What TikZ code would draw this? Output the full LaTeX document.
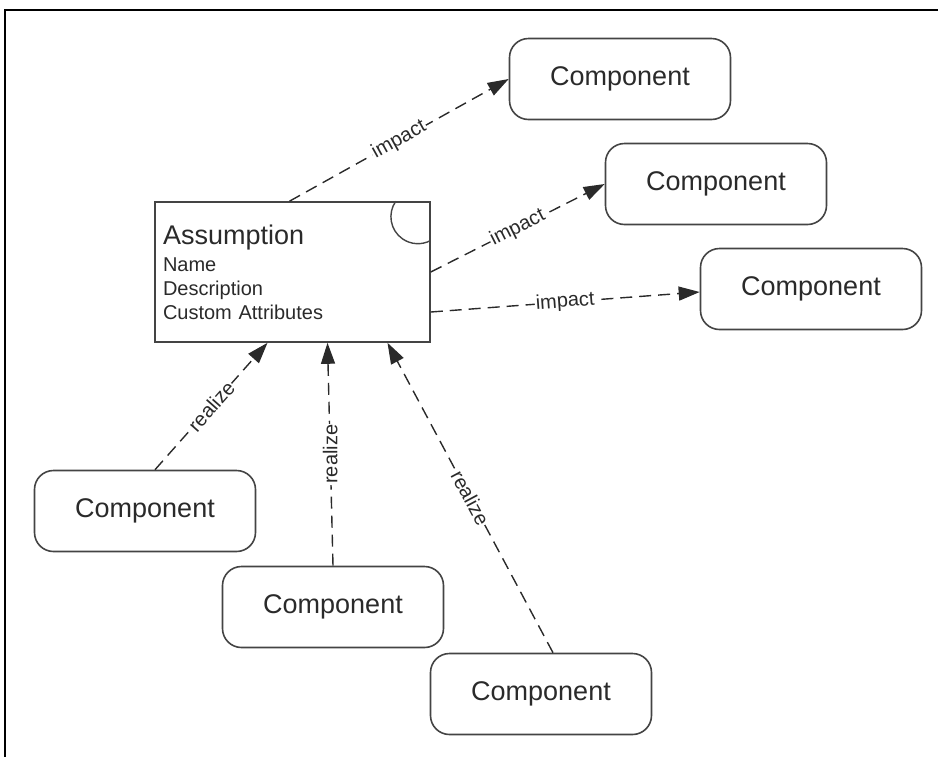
\documentclass[tikz,border=0pt]{standalone}
\usepackage{fontspec}
\setmainfont{Liberation Sans}
\usepackage{tikz}
\usetikzlibrary{positioning, arrows.meta}

\definecolor{edge}{HTML}{444444}
\definecolor{ink}{HTML}{2A2A2A}

\begin{document}
\begin{tikzpicture}[
  x=1pt, y=-1pt,
  comp/.style={draw=edge, line width=1.6pt, rounded corners=19pt, minimum width=221pt,
    minimum height=81pt, text=ink, font=\fontsize{27}{30}\selectfont},
  asmbox/.style={draw=edge, line width=1.6pt, minimum width=275pt, minimum height=140pt,
    text width=259pt, inner sep=8pt, align=left, text=ink, font=\fontsize{20}{24}\selectfont},
  dep/.style={-{Triangle[length=21pt, width=14pt]}, line width=1.4pt, ink,
    dash pattern=on 12pt off 7pt},
  lbl/.style={midway, fill=white, inner sep=1pt, text=ink, font=\fontsize{20}{22}\selectfont}
]
\useasboundingbox (0,0) rectangle (938,756);
% --- frame ---
\draw[line width=2.4pt] (5,770) -- (5,10) -- (950,10);
% --- assumption ---
\node[asmbox] (asm) at (292.5,272)
  {{\fontsize{27}{30}\selectfont Assumption}\\[3pt]
   Name\\Description\\Custom Attributes};
\draw[edge, line width=1.4pt] ([xshift=-35pt]asm.north east)
  arc[start angle=145, end angle=298, radius=27pt];
% --- components ---
\node[comp] (c1) at (620,79) {Component};
\node[comp] (c2) at (716,184) {Component};
\node[comp] (c3) at (811,289) {Component};
\node[comp] (c4) at (145,511) {Component};
\node[comp] (c5) at (333,607) {Component};
\node[comp] (c6) at (541,694) {Component};
% --- impact ---
\draw[dep] ([xshift=-3pt]asm.north) -- (c1.west) node[lbl, sloped]{impact};
\draw[dep] (asm.east) -- (c2.west) node[lbl, sloped]{impact};
\draw[dep] ([yshift=-40pt]asm.east) -- ([yshift=-3pt]c3.west) node[lbl, sloped]{impact};
% --- realize ---
\draw[dep] ([xshift=10pt]c4.north) -- ([xshift=-25pt]asm.south) node[lbl, sloped]{realize};
\draw[dep] (c5.north) -- ([xshift=35pt]asm.south) node[lbl, rotate=90]{realize};
\draw[dep] ([xshift=12pt]c6.north) -- ([xshift=95pt]asm.south) node[lbl, sloped]{realize};
\end{tikzpicture}
\end{document}
